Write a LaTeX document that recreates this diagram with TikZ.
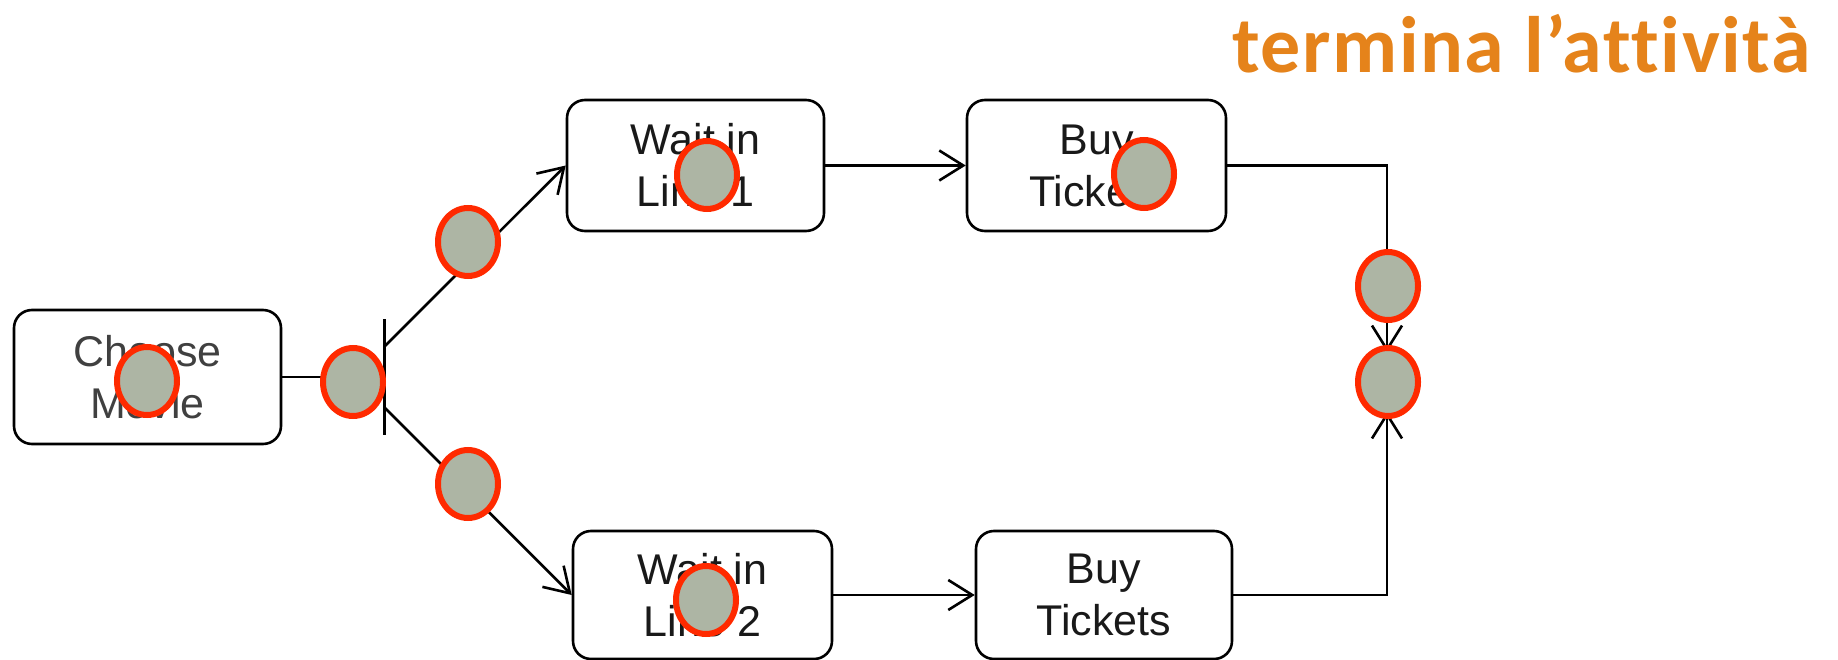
\documentclass[tikz,border=0pt]{standalone}
\usepackage{fontspec}
\setmainfont{Liberation Sans}
\newfontfamily\titlefont[Ligatures=NoCommon,LetterSpace=2]{Carlito}
\usetikzlibrary{arrows.meta,shapes.geometric}
\definecolor{titleorange}{HTML}{E5831B}
\definecolor{tokfill}{HTML}{ADB5A4}
\definecolor{tokred}{HTML}{FF2A00}
\tikzset{
  actbox/.style={draw=black, line width=2.6pt, rounded corners=18pt, align=center,
    font=\fontsize{43}{52}\selectfont, text=black!90, inner sep=0pt},
  conn/.style={draw=black, line width=2.6pt},
  arr/.style={conn, -{Straight Barb[length=24pt,width=30pt,line width=2.6pt]}},
  token/.style={ellipse, draw=tokred, fill=tokfill, line width=6pt,
    minimum width=60pt, minimum height=68pt, inner sep=0pt},
}
\begin{document}
\begin{tikzpicture}[x=1pt,y=-1pt]
\useasboundingbox (0,0) rectangle (1838,660);
% title
\node[anchor=base east, text=titleorange, font=\titlefont\bfseries\fontsize{80}{90}\selectfont, inner sep=0pt] (title) at (1811,73) {termina l’attività};
% activity boxes
\node[actbox, minimum width=267pt, minimum height=134pt, text=black!75] (choose) at (147.5,377) {Choose\\Movie};
\node[actbox, minimum width=257pt, minimum height=131pt] (wait1) at (695.5,165.5) {Wait in\\Line 1};
\node[actbox, minimum width=259pt, minimum height=131pt] (buy1) at (1096.5,165.5) {Buy\\Tickets};
\node[actbox, minimum width=259pt, minimum height=128pt] (wait2) at (702.5,595) {Wait in\\Line 2};
\node[actbox, minimum width=256pt, minimum height=128pt] (buy2) at (1104,595) {Buy\\Tickets};
% fork bar
\node[fill=black, minimum width=3pt, minimum height=116pt, inner sep=0pt] (fork) at (384,377) {};
\coordinate (f1) at (384,347);
\coordinate (f2) at (384,407);
\coordinate (join) at (1387,382);
% connectors
\draw[conn] (choose.east) -- (fork.center);
\draw[arr] (f1) -- (wait1.west);
\draw[arr] (f2) -- (wait2.west);
\draw[arr] (wait1.east) -- (buy1.west);
\draw[arr] (wait2.east) -- (buy2.west);
\draw[arr, shorten >=30pt] (buy1.east) -| (join);
\draw[arr, shorten >=30pt] (buy2.east) -| (join);
% tokens
\node[token] (tk1) at (147,381) {};
\node[token] (tk2) at (353,382) {};
\node[token] (tk3) at (468,242) {};
\node[token] (tk4) at (468,484) {};
\node[token] (tk5) at (707,175) {};
\node[token] (tk6) at (1144,174) {};
\node[token] (tk7) at (706,600) {};
\node[token] (tk8) at (1388,286) {};
\node[token] (tk9) at (1388,382) {};
\end{tikzpicture}
\end{document}
